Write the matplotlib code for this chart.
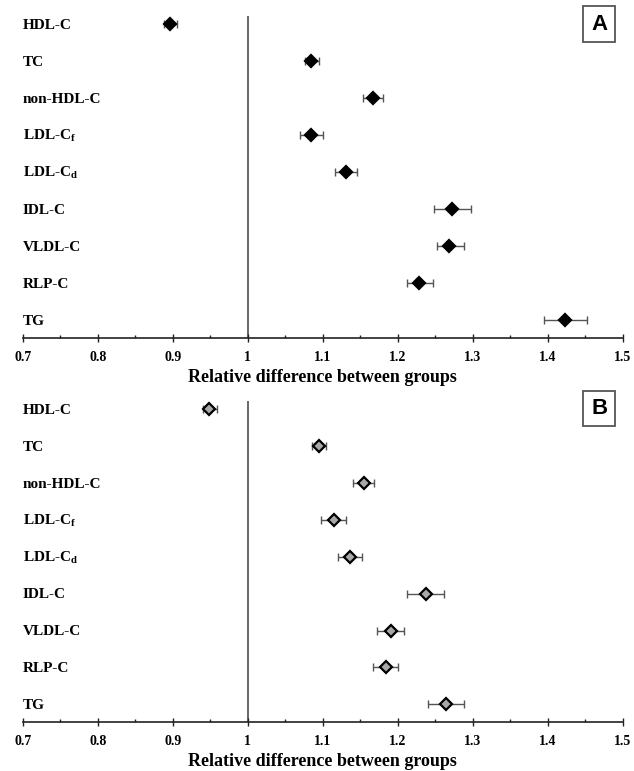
import matplotlib
matplotlib.use("Agg")
import matplotlib.pyplot as plt
from matplotlib.patches import Rectangle
from matplotlib.ticker import MultipleLocator, FixedLocator

plt.rcParams['font.family'] = ['Liberation Serif', 'DejaVu Serif']
plt.rcParams['mathtext.fontset'] = 'custom'
plt.rcParams['mathtext.rm'] = 'Liberation Serif:bold'
plt.rcParams['mathtext.it'] = 'Liberation Serif:bold'
plt.rcParams['mathtext.bf'] = 'Liberation Serif:bold'

# categories (top to bottom)
labels = ['HDL-C', 'TC', 'non-HDL-C', 'LDL-C$_{f}$', 'LDL-C$_{d}$',
          'IDL-C', 'VLDL-C', 'RLP-C', 'TG']

# panel A: relative difference with lower / upper limits
a_mean = [0.897, 1.085, 1.167, 1.085, 1.131, 1.273, 1.269, 1.229, 1.423]
a_low = [0.888, 1.077, 1.154, 1.070, 1.117, 1.249, 1.252, 1.212, 1.395]
a_high = [0.906, 1.095, 1.181, 1.101, 1.146, 1.298, 1.288, 1.247, 1.452]

# panel B
b_mean = [0.949, 1.095, 1.155, 1.115, 1.136, 1.238, 1.191, 1.184, 1.265]
b_low = [0.941, 1.086, 1.141, 1.098, 1.121, 1.213, 1.173, 1.167, 1.241]
b_high = [0.959, 1.105, 1.169, 1.131, 1.152, 1.262, 1.208, 1.201, 1.289]

xticks = [0.7, 0.8, 0.9, 1.0, 1.1, 1.2, 1.3, 1.4, 1.5]
xticklabels = ['0.7', '0.8', '0.9', '1', '1.1', '1.2', '1.3', '1.4', '1.5']

W, H = 634, 771
fig = plt.figure(figsize=(W / 100, H / 100), dpi=100)


def draw_panel(rect, mean, low, high, face, letter, box):
    ax = fig.add_axes(rect)
    y = list(range(len(labels)))
    xerr = [[m - l for m, l in zip(mean, low)], [h - m for m, h in zip(mean, high)]]
    ax.axvline(1.0, color='#666666', lw=1.4, zorder=1)
    ax.errorbar(mean, y, xerr=xerr, fmt='none', ecolor='#555555',
                elinewidth=1.0, capsize=3.2, capthick=1.0, zorder=2)
    ax.plot(mean, y, ls='none', marker='D', ms=6.2, mfc=face, mec='black',
            mew=1.6, zorder=3)
    for yi, lab in zip(y, labels):
        ax.text(0.7, yi + 0.13, lab, ha='left', va='baseline',
                fontsize=11, fontweight='bold')
    ax.set_xlim(0.7, 1.5)
    ax.set_ylim(8.486, -0.216)
    ax.set_yticks([])
    for s in ['top', 'right', 'left']:
        ax.spines[s].set_visible(False)
    ax.spines['bottom'].set_linewidth(1.2)
    ax.spines['bottom'].set_color('#222222')
    ax.xaxis.set_major_locator(FixedLocator(xticks))
    ax.set_xticklabels(xticklabels, fontsize=10, fontweight='bold')
    ax.xaxis.set_minor_locator(MultipleLocator(0.05))
    ax.tick_params(axis='x', which='major', direction='inout', length=6,
                   width=1.0, color='#222222', pad=6.5)
    ax.tick_params(axis='x', which='minor', direction='in', length=2.5,
                   width=1.0, color='#222222')
    ax.set_xlabel('Relative difference between groups', fontsize=13,
                  fontweight='bold', labelpad=3.5)
    # panel letter in a box
    bx, by, bw, bh = box
    fig.patches.append(Rectangle((bx / W, 1 - (by + bh) / H), bw / W, bh / H,
                                 transform=fig.transFigure, fill=False,
                                 ec='#555555', lw=1.3))
    fig.text((bx + bw / 2) / W, 1 - (by + bh / 2) / H, letter,
             ha='center', va='center', fontsize=16, fontweight='bold',
             family='Liberation Sans')
    return ax


left = 22.7 / W
width = 600.0 / W
draw_panel([left, 1 - 338 / H, width, 322 / H], a_mean, a_low, a_high,
           'black', 'A', (583.3, 6, 32, 36.3))
draw_panel([left, 1 - 722.3 / H, width, 321.3 / H], b_mean, b_low, b_high,
           '#a8a8a8', 'B', (583.3, 391, 32, 35))

fig.savefig('out.png', dpi=100, facecolor='white')
